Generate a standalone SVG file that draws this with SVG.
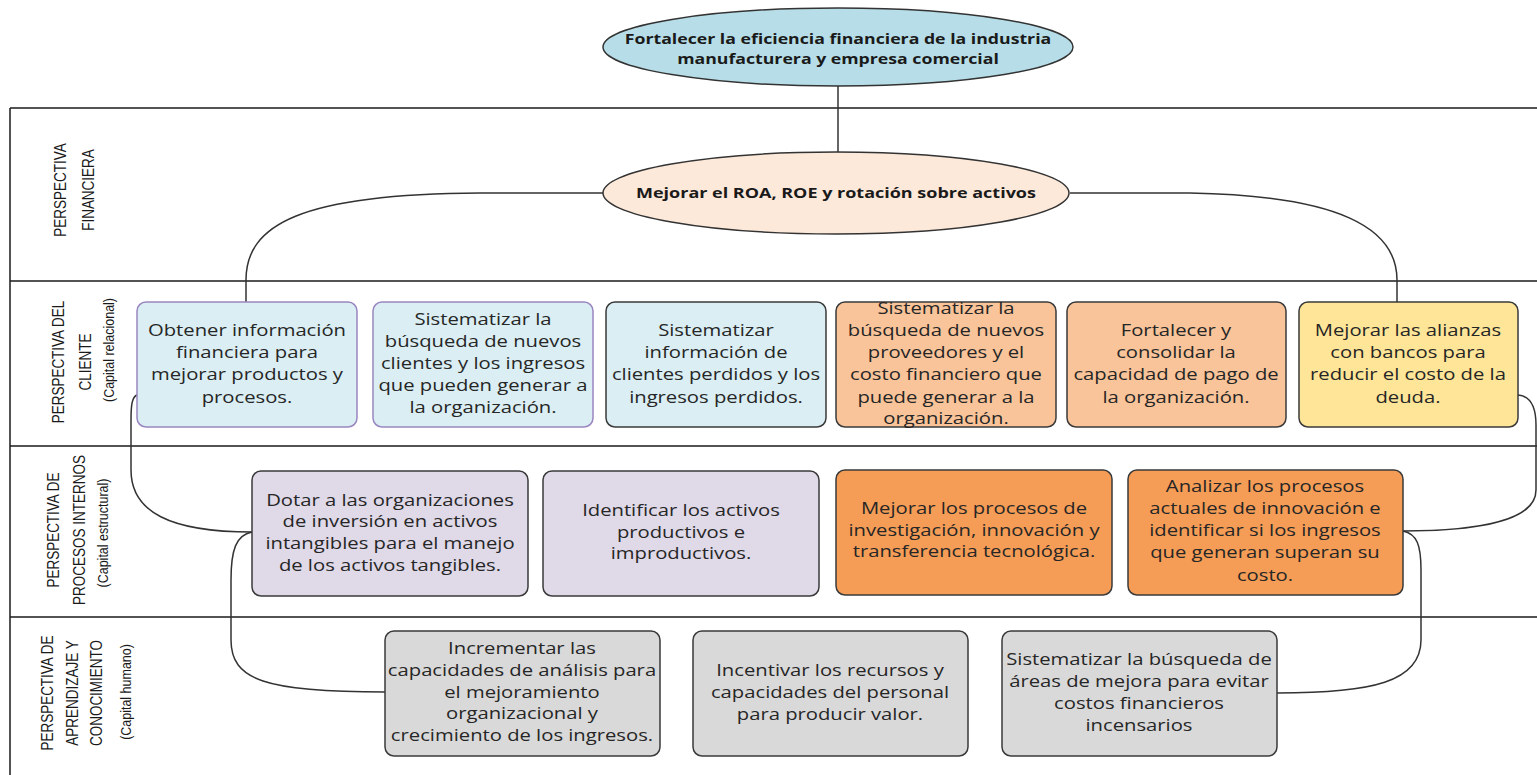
<svg xmlns="http://www.w3.org/2000/svg" width="1537" height="775" viewBox="0 0 1537 775">
<style>
.frame{stroke:#1a1a1a;stroke-width:1.5;fill:none}
.conn{stroke:#333;stroke-width:1.5;fill:none}
.box{stroke:#3a3a3a;stroke-width:1.5}
.pbox{stroke:#9a86c0;stroke-width:1.5}
.t{font-family:"Open Sans","Liberation Sans",sans-serif;font-size:17px;fill:#262626;text-anchor:middle}
.tb{font-family:"Open Sans","Liberation Sans",sans-serif;font-size:15px;font-weight:bold;fill:#1a1a1a;text-anchor:middle}
.lbl{font-family:"Liberation Sans",Arial,sans-serif;font-size:13.5px;fill:#1a1a1a;text-anchor:middle}
.sub{font-family:"Liberation Sans",Arial,sans-serif;font-size:12.5px;fill:#1a1a1a;text-anchor:middle}
.lblue{fill:#daeef3}.lorange{fill:#f9c499}.yellow{fill:#ffe597}.lav{fill:#dfd9e8}.orange{fill:#f59d56}.gray{fill:#d9d9d9}
</style>
<rect width="1537" height="775" fill="#ffffff"/>
<g id="frame">
<line class="frame" x1="10" y1="108" x2="1537" y2="108"/>
<line class="frame" x1="10" y1="281" x2="1537" y2="281"/>
<line class="frame" x1="10" y1="446" x2="1537" y2="446"/>
<line class="frame" x1="10" y1="617" x2="1537" y2="617"/>
<line class="frame" x1="10" y1="108" x2="10" y2="775"/>
</g>
<g id="labels">
<text class="lbl" transform="translate(66,190) rotate(-90) scale(1,1.19)">PERSPECTIVA</text>
<text class="lbl" transform="translate(94,190) rotate(-90) scale(1,1.19)">FINANCIERA</text>
<text class="lbl" transform="translate(64,362) rotate(-90) scale(1,1.19)">PERSPECTIVA DEL</text>
<text class="lbl" transform="translate(91,362) rotate(-90) scale(1,1.19)">CLIENTE</text>
<text class="sub" transform="translate(114,350) rotate(-90) scale(1,1.19)">(Capital relacional)</text>
<text class="lbl" transform="translate(59,530) rotate(-90) scale(1,1.19)">PERSPECTIVA DE</text>
<text class="lbl" transform="translate(85,530) rotate(-90) scale(1,1.19)">PROCESOS INTERNOS</text>
<text class="sub" transform="translate(108,533) rotate(-90) scale(1,1.19)">(Capital estructural)</text>
<text class="lbl" transform="translate(53,693) rotate(-90) scale(1,1.19)">PERSPECTIVA DE</text>
<text class="lbl" transform="translate(78,693) rotate(-90) scale(1,1.19)">APRENDIZAJE Y</text>
<text class="lbl" transform="translate(102,693) rotate(-90) scale(1,1.19)">CONOCIMIENTO</text>
<text class="sub" transform="translate(131,692) rotate(-90) scale(1,1.19)">(Capital humano)</text>
</g>
<g id="connectors">
<line class="conn" x1="838" y1="86" x2="838" y2="152"/>
<path class="conn" d="M603,193 H480 C300,194 246,225 246,280 V302"/>
<path class="conn" d="M1070,193 H1190 C1340,196 1397,228 1397,280 V302"/>
<path class="conn" d="M137,395 C132,397 131,405 131,420 V470 C131,512 170,532 252,532"/>
<path class="conn" d="M252,532 C236,535 231,550 231,580 V640 C231,680 265,692 385,692"/>
<path class="conn" d="M1518,395 C1530,396 1536,405 1536,425 V490 C1536,520 1480,531 1403,531"/>
<path class="conn" d="M1403,531 C1417,534 1421,545 1421,570 V640 C1421,682 1372,693 1277,693"/>
</g>
<g id="goal">
<ellipse cx="838" cy="47" rx="235" ry="39" fill="#b7dee8" stroke="#333" stroke-width="1.5"/>
<text class="tb" transform="matrix(1.18,0,0,1,-150.84,0)"><tspan x="838" y="44">Fortalecer la eficiencia financiera de la industria</tspan><tspan x="838" y="64">manufacturera y empresa comercial</tspan></text>
</g>
<g id="roa">
<ellipse cx="836" cy="193" rx="233" ry="41" fill="#fde9d9" stroke="#333" stroke-width="1.5"/>
<text class="tb" transform="matrix(1.2,0,0,1,-167.2,0)" x="836" y="198">Mejorar el ROA, ROE y rotación sobre activos</text>
</g>
<g id="c1">
<rect class="pbox lblue" x="137" y="302" width="220" height="125" rx="9"/>
<text class="t" transform="matrix(1.19,0,0,1,-46.93,0)"><tspan x="247" y="336">Obtener información</tspan><tspan x="247" y="358">financiera para</tspan><tspan x="247" y="380">mejorar productos y</tspan><tspan x="247" y="403">procesos.</tspan></text>
</g>
<g id="c2">
<rect class="pbox lblue" x="373" y="302" width="220" height="125" rx="9"/>
<text class="t" transform="matrix(1.19,0,0,1,-91.77,0)"><tspan x="483" y="325">Sistematizar la</tspan><tspan x="483" y="347">búsqueda de nuevos</tspan><tspan x="483" y="369">clientes y los ingresos</tspan><tspan x="483" y="391">que pueden generar a</tspan><tspan x="483" y="413">la organización.</tspan></text>
</g>
<g id="c3">
<rect class="box lblue" x="606" y="302" width="220" height="125" rx="9"/>
<text class="t" transform="matrix(1.19,0,0,1,-136.04,0)"><tspan x="716" y="336">Sistematizar</tspan><tspan x="716" y="358">información de</tspan><tspan x="716" y="380">clientes perdidos y los</tspan><tspan x="716" y="403">ingresos perdidos.</tspan></text>
</g>
<g id="c4">
<rect class="box lorange" x="836" y="302" width="220" height="125" rx="9"/>
<text class="t" transform="matrix(1.19,0,0,1,-179.74,0)"><tspan x="946" y="314">Sistematizar la</tspan><tspan x="946" y="336">búsqueda de nuevos</tspan><tspan x="946" y="358">proveedores y el</tspan><tspan x="946" y="380">costo financiero que</tspan><tspan x="946" y="403">puede generar a la</tspan><tspan x="946" y="424">organización.</tspan></text>
</g>
<g id="c5">
<rect class="box lorange" x="1067" y="302" width="219" height="125" rx="9"/>
<text class="t" transform="matrix(1.19,0,0,1,-223.44,0)"><tspan x="1176" y="336">Fortalecer y</tspan><tspan x="1176" y="358">consolidar la</tspan><tspan x="1176" y="380">capacidad de pago de</tspan><tspan x="1176" y="403">la organización.</tspan></text>
</g>
<g id="c6">
<rect class="box yellow" x="1299" y="302" width="219" height="125" rx="9"/>
<text class="t" transform="matrix(1.19,0,0,1,-267.52,0)"><tspan x="1408" y="336">Mejorar las alianzas</tspan><tspan x="1408" y="358">con bancos para</tspan><tspan x="1408" y="380">reducir el costo de la</tspan><tspan x="1408" y="403">deuda.</tspan></text>
</g>
<g id="p1">
<rect class="box lav" x="252" y="471" width="276" height="125" rx="9"/>
<text class="t" transform="matrix(1.19,0,0,1,-74.1,0)"><tspan x="390" y="506">Dotar a las organizaciones</tspan><tspan x="390" y="527">de inversión en activos</tspan><tspan x="390" y="549">intangibles para el manejo</tspan><tspan x="390" y="571">de los activos tangibles.</tspan></text>
</g>
<g id="p2">
<rect class="box lav" x="543" y="471" width="276" height="125" rx="9"/>
<text class="t" transform="matrix(1.19,0,0,1,-129.39,0)"><tspan x="681" y="516">Identificar los activos</tspan><tspan x="681" y="538">productivos e</tspan><tspan x="681" y="559">improductivos.</tspan></text>
</g>
<g id="p3">
<rect class="box orange" x="836" y="470" width="276" height="125" rx="9"/>
<text class="t" transform="matrix(1.19,0,0,1,-185.06,0)"><tspan x="974" y="514">Mejorar los procesos de</tspan><tspan x="974" y="536">investigación, innovación y</tspan><tspan x="974" y="557">transferencia tecnológica.</tspan></text>
</g>
<g id="p4">
<rect class="box orange" x="1128" y="470" width="275" height="125" rx="9"/>
<text class="t" transform="matrix(1.19,0,0,1,-240.35,0)"><tspan x="1265" y="492">Analizar los procesos</tspan><tspan x="1265" y="514">actuales de innovación e</tspan><tspan x="1265" y="536">identificar si los ingresos</tspan><tspan x="1265" y="558">que generan superan su</tspan><tspan x="1265" y="581">costo.</tspan></text>
</g>
<g id="a1">
<rect class="box gray" x="385" y="631" width="275" height="125" rx="9"/>
<text class="t" transform="matrix(1.19,0,0,1,-99.18,0)"><tspan x="522" y="654">Incrementar las</tspan><tspan x="522" y="676">capacidades de análisis para</tspan><tspan x="522" y="698">el mejoramiento</tspan><tspan x="522" y="719">organizacional y</tspan><tspan x="522" y="741">crecimiento de los ingresos.</tspan></text>
</g>
<g id="a2">
<rect class="box gray" x="693" y="631" width="275" height="125" rx="9"/>
<text class="t" transform="matrix(1.19,0,0,1,-157.7,0)"><tspan x="830" y="676">Incentivar los recursos y</tspan><tspan x="830" y="698">capacidades del personal</tspan><tspan x="830" y="720">para producir valor.</tspan></text>
</g>
<g id="a3">
<rect class="box gray" x="1002" y="631" width="275" height="125" rx="9"/>
<text class="t" transform="matrix(1.19,0,0,1,-216.41,0)"><tspan x="1139" y="665">Sistematizar la búsqueda de</tspan><tspan x="1139" y="687">áreas de mejora para evitar</tspan><tspan x="1139" y="709">costos financieros</tspan><tspan x="1139" y="731">incensarios</tspan></text>
</g>
</svg>
